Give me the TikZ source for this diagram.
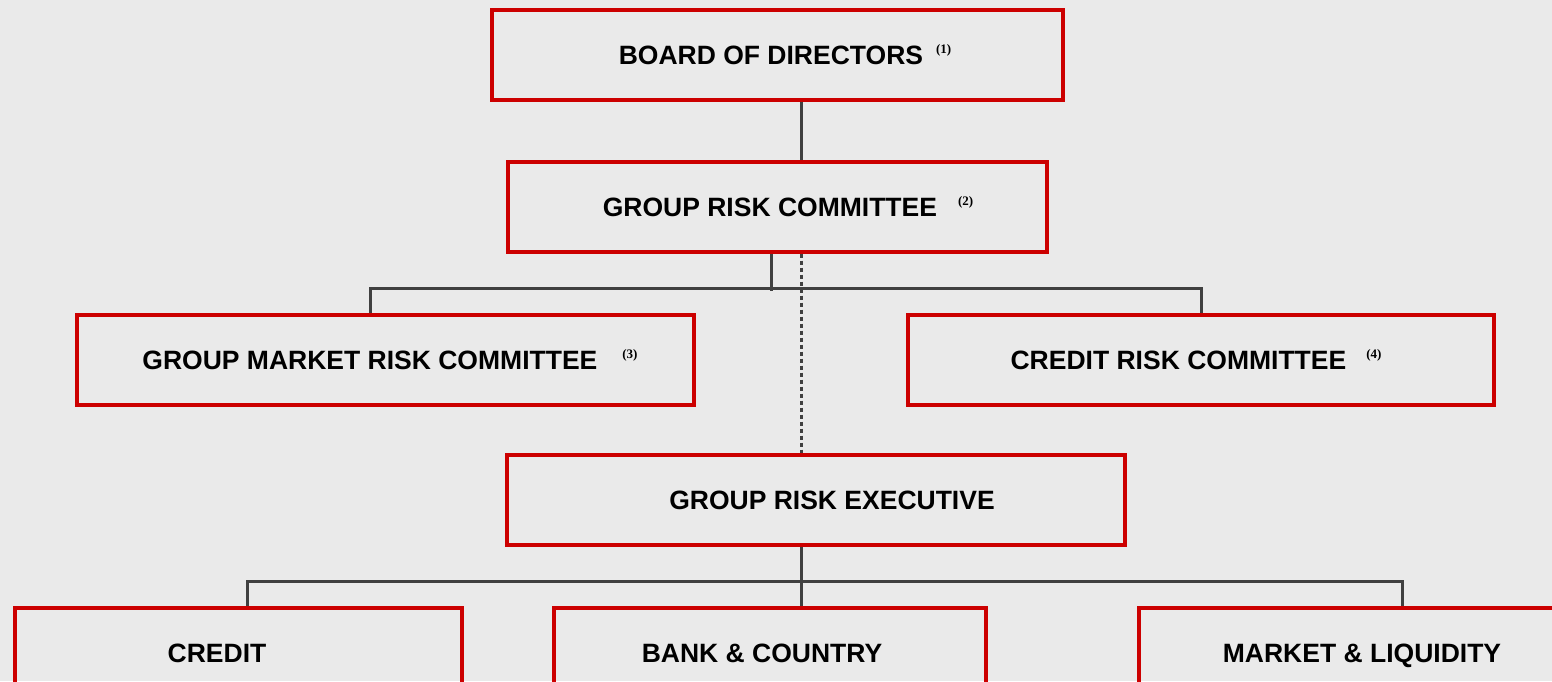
\documentclass[tikz,border=0pt]{standalone}
\usepackage{fontspec}
\setmainfont{Liberation Sans}
\newfontfamily\notefont{Liberation Serif}
\usepackage{xcolor}
\definecolor{boxred}{RGB}{204,0,0}
\definecolor{linegray}{RGB}{64,64,64}
\definecolor{paper}{RGB}{234,234,234}
% footnote number after a box title
\newcommand{\refmark}[2]{\hspace{#1}\raisebox{11pt}{\notefont\bfseries\fontsize{13}{13}\selectfont(#2)}}

\begin{document}
\begin{tikzpicture}[x=1pt,y=-1pt,
        unit/.style={draw=boxred,line width=4pt,minimum height=90pt,inner sep=0pt},
        tag/.style={font=\bfseries\fontsize{26.5}{26.5}\selectfont,text height=19pt,text depth=0pt,inner sep=0pt},
        link/.style={draw=linegray,line width=3pt},
        dotlink/.style={link,dash pattern=on 4pt off 3pt}]
        \useasboundingbox (0,0) rectangle (1552,681);
        \clip (0,0) rectangle (1552,681);
        \fill[paper] (0,0) rectangle (1552,681);

        % boxes
        \node[unit,minimum width=571pt] (board) at (777.5,54.5) {};
        \node[unit,minimum width=539pt] (grc) at (777.5,206.5) {};
        \node[unit,minimum width=617pt] (gmrc) at (385.5,360) {};
        \node[unit,minimum width=586pt] (crc) at (1201,360) {};
        \node[unit,minimum width=618pt] (gre) at (816,500) {};
        \node[unit,minimum width=447pt] (credit) at (238.5,653) {};
        \node[unit,minimum width=432pt] (bank) at (770,653) {};
        \node[unit,minimum width=446pt] (market) at (1362,653) {};

        % titles
        \node[tag] (boardname) at ([xshift=7.5pt]board.center) {BOARD OF DIRECTORS\refmark{13pt}{1}};
        \node[tag] (grcname) at ([xshift=10.5pt]grc.center) {GROUP RISK COMMITTEE\refmark{21pt}{2}};
        \node[tag] (gmrcname) at ([xshift=4.5pt]gmrc.center) {GROUP MARKET RISK COMMITTEE\refmark{25pt}{3}};
        \node[tag] (crcname) at ([xshift=-5pt]crc.center) {CREDIT RISK COMMITTEE\refmark{20pt}{4}};
        \node[tag] (grename) at ([xshift=16pt]gre.center) {GROUP RISK EXECUTIVE};
        \node[tag] (creditname) at ([xshift=-21.5pt]credit.center) {CREDIT};
        \node[tag] (bankname) at ([xshift=-8pt]bank.center) {BANK \& COUNTRY};
        \node[tag] (marketname) at (market.center) {MARKET \& LIQUIDITY};

        % lines
        \draw[link] ([xshift=23.5pt]board.south) -- ([xshift=23.5pt]grc.north);
        \draw[link] ([xshift=-6.5pt]grc.south) -- ++(0,37);
        \draw[link] ([xshift=-15.5pt]gmrc.north) -- ++(0,-25) -| (crc.north);
        \draw[dotlink] ([xshift=23.5pt]grc.south) -- ([xshift=-15pt]gre.north);
        \draw[link] ([xshift=-15pt]gre.south) -- ([xshift=31pt]bank.north);
        \draw[link] ([xshift=8.5pt]credit.north) -- ++(0,-25) -| ([xshift=40pt]market.north);
      \end{tikzpicture}
\end{document}
